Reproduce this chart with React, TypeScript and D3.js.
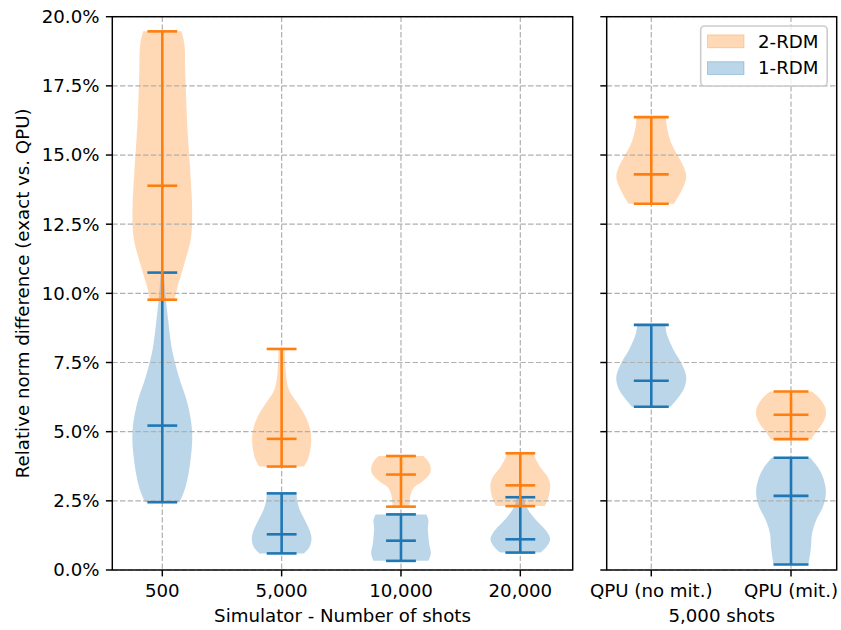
import React from "react";
import * as d3 from "d3";

// ---------- data (values in %) ----------
const simCategories = ["500", "5,000", "10,000", "20,000"];
const qpuCategories = ["QPU (no mit.)", "QPU (mit.)"];
const yTickValues = [0, 2.5, 5, 7.5, 10, 12.5, 15, 17.5, 20];
const seriesNames = ["2-RDM", "1-RDM"];
const simAxisLabel = "Simulator - Number of shots";
const qpuAxisLabel = "5,000 shots";
const yAxisLabel = "Relative norm difference (exact vs. QPU)";

// 1-RDM, simulator
const rdm1SimMin = [2.45, 0.6, 0.33, 0.63];
const rdm1SimMedian = [5.22, 1.29, 1.06, 1.11];
const rdm1SimMax = [10.75, 2.77, 2.01, 2.63];
// 2-RDM, simulator
const rdm2SimMin = [9.77, 3.74, 2.29, 2.31];
const rdm2SimMedian = [13.89, 4.74, 3.45, 3.06];
const rdm2SimMax = [19.47, 7.99, 4.12, 4.22];
// 1-RDM, QPU
const rdm1QpuMin = [5.9, 0.2];
const rdm1QpuMedian = [6.84, 2.68];
const rdm1QpuMax = [8.86, 4.06];
// 2-RDM, QPU
const rdm2QpuMin = [13.24, 4.73];
const rdm2QpuMedian = [14.3, 5.61];
const rdm2QpuMax = [16.37, 6.45];

// density profiles: [value %, relative half-width]
const rdm1SimProfiles: [number, number][][] = [
  [[10.75, 0.05], [10.0, 0.1], [9.0, 0.2], [8.0, 0.32], [7.0, 0.55], [6.0, 0.85], [5.0, 1.0], [4.0, 0.95], [3.0, 0.78], [2.45, 0.58]],
  [[2.77, 0.5], [2.5, 0.52], [2.2, 0.6], [1.8, 0.78], [1.4, 0.95], [1.1, 1.0], [0.8, 0.92], [0.6, 0.75]],
  [[2.01, 0.85], [1.8, 0.92], [1.5, 0.9], [1.2, 0.92], [0.9, 0.95], [0.6, 1.0], [0.33, 0.92]],
  [[2.63, 0.12], [2.3, 0.2], [2.0, 0.38], [1.7, 0.62], [1.4, 0.88], [1.1, 1.0], [0.8, 0.85], [0.63, 0.68]],
];
const rdm2SimProfiles: [number, number][][] = [
  [[19.47, 0.64], [19.0, 0.74], [18.0, 0.77], [17.0, 0.8], [16.0, 0.84], [15.0, 0.9], [14.0, 0.96], [13.0, 1.0], [12.0, 0.96], [11.0, 0.72], [10.2, 0.5], [9.77, 0.42]],
  [[7.99, 0.1], [7.5, 0.12], [7.0, 0.15], [6.5, 0.25], [6.0, 0.55], [5.5, 0.82], [5.0, 0.97], [4.5, 0.98], [4.0, 0.88], [3.74, 0.75]],
  [[4.12, 0.75], [3.95, 0.9], [3.7, 1.0], [3.45, 0.95], [3.2, 0.72], [3.0, 0.45], [2.7, 0.32], [2.29, 0.28]],
  [[4.22, 0.45], [4.0, 0.52], [3.7, 0.68], [3.4, 0.9], [3.1, 1.0], [2.8, 0.98], [2.5, 0.9], [2.31, 0.82]],
];
const rdm1QpuProfiles: [number, number][][] = [
  [[8.86, 0.4], [8.5, 0.45], [8.0, 0.62], [7.5, 0.85], [7.0, 1.0], [6.6, 0.95], [6.2, 0.75], [5.9, 0.55]],
  [[4.06, 0.55], [3.7, 0.78], [3.3, 0.93], [2.8, 1.0], [2.3, 0.92], [1.8, 0.72], [1.3, 0.6], [0.8, 0.57], [0.2, 0.5]],
];
const rdm2QpuProfiles: [number, number][][] = [
  [[16.37, 0.42], [16.0, 0.45], [15.5, 0.55], [15.0, 0.75], [14.5, 0.95], [14.2, 1.0], [13.8, 0.9], [13.24, 0.65]],
  [[6.45, 0.6], [6.2, 0.82], [5.9, 0.97], [5.6, 1.0], [5.3, 0.9], [5.0, 0.72], [4.73, 0.58]],
];

// ---------- styles ----------
const BLUE = "#1f77b4";
const ORANGE = "#ff7f0e";
const FONT = "'DejaVu Sans', Verdana, sans-serif";
const FS = 18.2;
const LW = 2.6;

const TOP = 16.7;
const BOTTOM = 570;
const L1 = 112.3, R1 = 572.7;
const L2 = 606.7, R2 = 836.7;

const y = d3.scaleLinear().domain([0, 20]).range([BOTTOM, TOP]);
const xSim = d3.scaleLinear().domain([0.581, 4.439]).range([L1, R1]);
const xQpu = d3.scaleLinear().domain([0.681, 2.327]).range([L2, R2]);

type Scale = d3.ScaleLinear<number, number>;

function bodyPath(x: Scale, pos: number, profile: [number, number][]) {
  const area = d3
    .area<[number, number]>()
    .y((d) => y(d[0]))
    .x0((d) => x(pos - 0.25 * d[1]))
    .x1((d) => x(pos + 0.25 * d[1]))
    .curve(d3.curveCatmullRom);
  return area(profile) || "";
}

function Bodies({ x, profiles, color, k }: { x: Scale; profiles: [number, number][][]; color: string; k: string }) {
  return (
    <g>
      {profiles.map((p, i) => (
        <path key={k + i} d={bodyPath(x, i + 1, p)} fill={color} fillOpacity={0.3} stroke="none" />
      ))}
    </g>
  );
}

function Lines({ x, mins, meds, maxs, color, k }: { x: Scale; mins: number[]; meds: number[]; maxs: number[]; color: string; k: string }) {
  return (
    <g stroke={color} strokeWidth={LW} fill="none">
      {mins.map((mn, i) => {
        const pos = i + 1;
        const xa = x(pos - 0.125), xb = x(pos + 0.125), xc = x(pos);
        return (
          <g key={k + i}>
            <line x1={xc} x2={xc} y1={y(mn)} y2={y(maxs[i])} />
            <line x1={xa} x2={xb} y1={y(mn)} y2={y(mn)} />
            <line x1={xa} x2={xb} y1={y(maxs[i])} y2={y(maxs[i])} />
            <line x1={xa} x2={xb} y1={y(meds[i])} y2={y(meds[i])} />
          </g>
        );
      })}
    </g>
  );
}

function Grid({ x, left, right, cats }: { x: Scale; left: number; right: number; cats: string[] }) {
  return (
    <g stroke="#b0b0b0" strokeWidth={1.2} strokeDasharray="5.4,2.3">
      {yTickValues.map((t) => (
        <line key={"gy" + t} x1={left} x2={right} y1={y(t)} y2={y(t)} />
      ))}
      {cats.map((c, i) => (
        <line key={"gx" + c} x1={x(i + 1)} x2={x(i + 1)} y1={TOP} y2={BOTTOM} />
      ))}
    </g>
  );
}

function Axes({ x, left, right, cats, label, showY }: { x: Scale; left: number; right: number; cats: string[]; label: string; showY: boolean }) {
  return (
    <g>
      <rect x={left} y={TOP} width={right - left} height={BOTTOM - TOP} fill="none" stroke="#000" strokeWidth={1.46} />
      {yTickValues.map((t) => (
        <g key={"yt" + t}>
          <line x1={left - 6.4} x2={left} y1={y(t)} y2={y(t)} stroke="#000" strokeWidth={1.46} />
          {showY && (
            <text x={left - 12.8} y={y(t)} dy="0.35em" textAnchor="end" fontSize={FS} fontFamily={FONT} fill="#000">
              {t.toFixed(1) + "%"}
            </text>
          )}
        </g>
      ))}
      {cats.map((c, i) => (
        <g key={"xt" + c}>
          <line x1={x(i + 1)} x2={x(i + 1)} y1={BOTTOM} y2={BOTTOM + 6.4} stroke="#000" strokeWidth={1.46} />
          <text x={x(i + 1)} y={596.6} textAnchor="middle" fontSize={FS} fontFamily={FONT} fill="#000">
            {c}
          </text>
        </g>
      ))}
      <text x={(left + right) / 2} y={621.5} textAnchor="middle" fontSize={FS} fontFamily={FONT} fill="#000">
        {label}
      </text>
    </g>
  );
}

export default function App() {
  return (
    <svg width={841} height={630} style={{ position: "absolute", left: 0, top: 0, background: "#fff" }}>
      <rect x={0} y={0} width={841} height={630} fill="#fff" />
      {/* bodies */}
      <Bodies x={xSim} profiles={rdm1SimProfiles} color={BLUE} k="b1s" />
      <Bodies x={xSim} profiles={rdm2SimProfiles} color={ORANGE} k="b2s" />
      <Bodies x={xQpu} profiles={rdm1QpuProfiles} color={BLUE} k="b1q" />
      <Bodies x={xQpu} profiles={rdm2QpuProfiles} color={ORANGE} k="b2q" />
      {/* grids */}
      <Grid x={xSim} left={L1} right={R1} cats={simCategories} />
      <Grid x={xQpu} left={L2} right={R2} cats={qpuCategories} />
      {/* lines */}
      <Lines x={xSim} mins={rdm1SimMin} meds={rdm1SimMedian} maxs={rdm1SimMax} color={BLUE} k="l1s" />
      <Lines x={xSim} mins={rdm2SimMin} meds={rdm2SimMedian} maxs={rdm2SimMax} color={ORANGE} k="l2s" />
      <Lines x={xQpu} mins={rdm1QpuMin} meds={rdm1QpuMedian} maxs={rdm1QpuMax} color={BLUE} k="l1q" />
      <Lines x={xQpu} mins={rdm2QpuMin} meds={rdm2QpuMedian} maxs={rdm2QpuMax} color={ORANGE} k="l2q" />
      {/* axes */}
      <Axes x={xSim} left={L1} right={R1} cats={simCategories} label={simAxisLabel} showY={true} />
      <Axes x={xQpu} left={L2} right={R2} cats={qpuCategories} label={qpuAxisLabel} showY={false} />
      <text transform={`translate(29,${(TOP + BOTTOM) / 2}) rotate(-90)`} textAnchor="middle" fontSize={FS} fontFamily={FONT} fill="#000">
        {yAxisLabel}
      </text>
      {/* legend */}
      <g>
        <rect x={700.7} y={26} width={126.5} height={60} rx={4} fill="#fff" fillOpacity={0.8} stroke="#cccccc" strokeWidth={1.6} />
        {seriesNames.map((name, i) => {
          const color = i === 0 ? ORANGE : BLUE;
          const cy = 41.3 + i * 26.8;
          return (
            <g key={name}>
              <rect x={707.5} y={cy - 6.4} width={36.5} height={12.8} fill={color} fillOpacity={0.3} stroke={color} strokeOpacity={0.3} strokeWidth={1} />
              <text x={758} y={cy} dy="0.35em" fontSize={FS} fontFamily={FONT} fill="#000">
                {name}
              </text>
            </g>
          );
        })}
      </g>
    </svg>
  );
}
